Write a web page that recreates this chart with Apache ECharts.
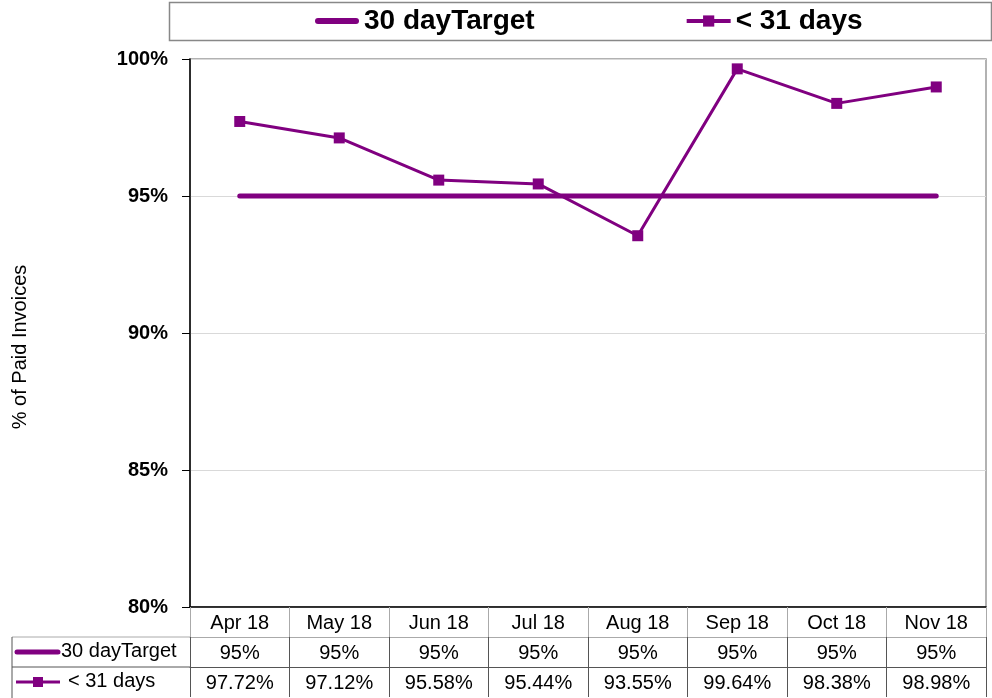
<!DOCTYPE html>
<html>
<head>
<meta charset="utf-8">
<script src="https://cdn.jsdelivr.net/npm/echarts@6/dist/echarts.min.js"></script>
<style>
html,body{margin:0;padding:0;background:#fff;}
#chart{width:992px;height:698px;}
</style>
</head>
<body>
<div id="chart"></div>
<script>
// data
var months = ["Apr 18","May 18","Jun 18","Jul 18","Aug 18","Sep 18","Oct 18","Nov 18"];
var targetName = "30 dayTarget";
var paidName = "< 31 days";
var target = [95,95,95,95,95,95,95,95];
var paid = [97.72,97.12,95.58,95.44,93.55,99.64,98.38,98.98];
var yTicks = {min:80, max:100, step:5};

var purple = "#800080";
var plain = "'Liberation Sans',Arial,sans-serif";

function pct(v){
    // 95 -> "95%", 97.72 -> "97.72%"
    return (Math.round(v) == v ? v : v.toFixed(2)) + "%";
}

// one x axis per table row, stacked under the plot
function tableAxis(offset,labels,lineColor,tickColor){
    return {
        type:"category",
        position:"bottom",
        offset:offset,
        data:months,
        boundaryGap:true,
        axisLine:{show:true,lineStyle:{color:lineColor,width:offset==0?1.5:1}},
        axisTick:{show:true,interval:0,length:30,inside:false,lineStyle:{color:tickColor}},
        axisLabel:{
            interval:0,margin:6,color:"#000",fontSize:20,fontFamily:plain,
            formatter:function(v,i){return labels[i];}
        },
        splitLine:{show:false}
    };
}

var chart = echarts.init(document.getElementById("chart"));

var option = {
    backgroundColor:"#fff",
    animation:false,
    grid:{left:190,right:6,top:59,bottom:91,show:true,borderColor:"#999",borderWidth:1.5,containLabel:false},
    legend:{
        left:310,top:2,
        itemWidth:44,itemHeight:14,itemGap:150,itemTextGap:4,
        textStyle:{fontSize:28,fontWeight:"bold",fontFamily:plain,color:"#000"},
        data:[
            {name:targetName,icon:"path://M3,0 L41,0 A3,3 0 0 1 41,6 L3,6 A3,3 0 0 1 3,0 Z"},
            {name:paidName,lineStyle:{width:4}}
        ]
    },
    xAxis:[
        tableAxis(0,months,"#000","#aaa"),
        tableAxis(30,target.map(pct),"#aaa","#555"),
        tableAxis(60,paid.map(pct),"#555","#555")
    ],
    yAxis:{
        type:"value",
        min:yTicks.min,max:yTicks.max,interval:yTicks.step,
        name:"% of Paid Invoices",
        nameLocation:"middle",nameRotate:90,nameGap:160,
        nameTextStyle:{fontSize:20,fontFamily:plain,color:"#000",padding:[0,28,0,0]},
        axisLine:{show:true,lineStyle:{color:"#000",width:1.5}},
        axisTick:{show:true,length:8,lineStyle:{color:"#000"}},
        axisLabel:{formatter:"{value}%",fontSize:20,fontWeight:"bold",fontFamily:plain,color:"#000",margin:22},
        splitLine:{show:true,lineStyle:{color:"#d9d9d9",width:1}}
    },
    series:[
        {
            name:targetName,type:"line",xAxisIndex:0,data:target,
            symbol:"none",
            lineStyle:{color:purple,width:5,cap:"round"},
            itemStyle:{color:purple}
        },
        {
            name:paidName,type:"line",xAxisIndex:0,data:paid,
            symbol:"rect",symbolSize:11,
            lineStyle:{color:purple,width:3},
            itemStyle:{color:purple}
        }
    ],
    graphic:[
        // legend box
        {type:"rect",left:167,top:0,shape:{width:822,height:38},style:{fill:"none",stroke:"#888",lineWidth:1.5},silent:true},
        // row header column of the data table
        {type:"line",shape:{x1:12,y1:637,x2:190,y2:637},style:{stroke:"#aaa",lineWidth:1}},
        {type:"line",shape:{x1:12,y1:667,x2:190,y2:667},style:{stroke:"#555",lineWidth:1}},
        {type:"line",shape:{x1:12,y1:637,x2:12,y2:698},style:{stroke:"#555",lineWidth:1}},
        {type:"line",shape:{x1:17,y1:652,x2:58,y2:652},style:{stroke:purple,lineWidth:5,lineCap:"round"}},
        {type:"text",left:61,top:641,style:{text:targetName,fontSize:20,fontFamily:plain,fill:"#000"}},
        {type:"line",shape:{x1:16,y1:682,x2:60,y2:682},style:{stroke:purple,lineWidth:3}},
        {type:"rect",shape:{x:33,y:677,width:10,height:10},style:{fill:purple}},
        {type:"text",left:68,top:671,style:{text:paidName,fontSize:20,fontFamily:plain,fill:"#000"}}
    ]
};

chart.setOption(option);
</script>
</body>
</html>
